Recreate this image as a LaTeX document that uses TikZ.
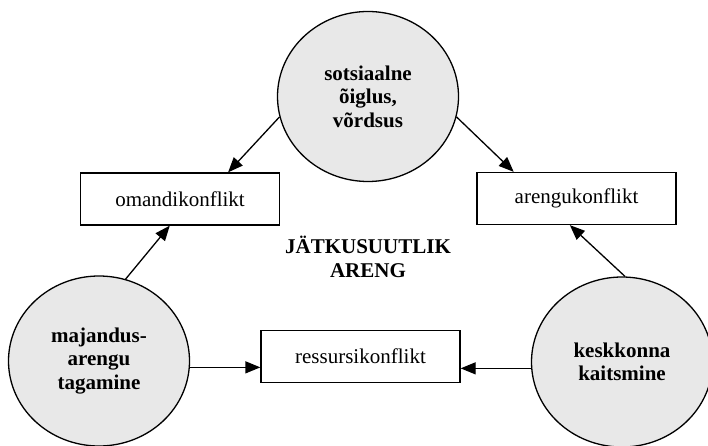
\documentclass[tikz,border=0pt]{standalone}
\usepackage{fontspec}
\setmainfont{Liberation Serif}
\usetikzlibrary{shapes.geometric,arrows.meta}
\definecolor{circfill}{HTML}{E8E8E8}
\begin{document}
\begin{tikzpicture}[x=1pt,y=-1pt,
  circ/.style={ellipse,draw,line width=1.3pt,fill=circfill,minimum width=181pt,minimum height=170pt,inner sep=0pt,align=center,font=\fontsize{21}{23.5}\selectfont\bfseries},
  box/.style={rectangle,draw,line width=1.3pt,minimum width=199pt,minimum height=52pt,inner sep=0pt,font=\fontsize{21}{24}\selectfont},
  arr/.style={line width=1.3pt,-{Triangle[length=15pt,width=12pt]}}]
\useasboundingbox (0,0) rectangle (708,446);
\node[circ] (t) at (368,96.5) {sotsiaalne\\õiglus,\\võrdsus};
\node[circ] (l) at (99,361) {majandus-\\arengu\\tagamine};
\node[circ] (r) at (622,362) {keskkonna\\kaitsmine};
\node[box] (om) at (180,199) {omandikonflikt};
\node[box] (ar) at (576.5,198.5) {arengukonflikt};
\node[box] (re) at (360.5,356.5) {ressursikonflikt};
\node[align=center,font=\fontsize{21}{24}\selectfont\bfseries] (jt) at (368,257) {JÄTKUSUUTLIK\\ARENG};
\draw[arr] (t.193) -- (om.29.5);
\draw[arr] (t.347) -- (ar.157.7);
\draw[arr] (l.72) -- (om.249);
\draw[arr] (r.88) -- (ar.256);
\draw[arr] (l.-4) -- (l.-4 -| re.west);
\draw[arr] (r.184) -- (r.184 -| re.east);
\end{tikzpicture}
\end{document}
